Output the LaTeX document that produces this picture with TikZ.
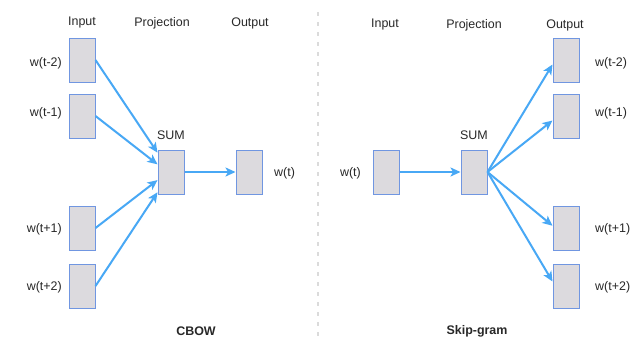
\documentclass[tikz,border=0pt]{standalone}
\usepackage{fontspec}
\setmainfont{Liberation Sans}
\usetikzlibrary{arrows.meta,calc}
\definecolor{arrowblue}{RGB}{72,168,245}
\definecolor{boxedge}{RGB}{112,150,225}
\definecolor{boxfill}{RGB}{220,218,222}
\definecolor{txt}{RGB}{40,40,40}
\tikzset{
  wordbox/.style={draw=boxedge, fill=boxfill, line width=1bp, minimum width=26bp, minimum height=44bp, inner sep=0pt},
  lab/.style={font=\fontsize{12.5}{14}\selectfont, text=txt, inner sep=1bp},
  title/.style={font=\bfseries\fontsize{12.5}{14}\selectfont, text=txt, inner sep=1bp},
  conn/.style={draw=arrowblue, line width=2bp, -{Stealth[length=10bp,width=9bp,inset=2.5bp]}},
  sep/.style={draw=black!14, line width=1.5bp, dash pattern=on 4bp off 6bp}
}
\begin{document}
\begin{tikzpicture}[x=1bp,y=-1bp]
\useasboundingbox (0,0) rectangle (637,349);
\fill[white] (0,0) rectangle (637,349);
% separator
\coordinate (s1) at (318,12);
\coordinate (s2) at (318,342);
\draw[sep] (s1) -- (s2);
% ---------- CBOW ----------
\node[lab] (hin1) at (82,23) {Input};
\node[lab] (hpr1) at (162,23) {Projection};
\node[lab] (hout1) at (250,23) {Output};
\node[wordbox] (a1) at (82,60) {};
\node[wordbox] (a2) at (82,116) {};
\node[wordbox] (a3) at (82,228) {};
\node[wordbox] (a4) at (82,286) {};
\node[lab, anchor=east] (la1) at (63,63) {w(t-2)};
\node[lab, anchor=east] (la2) at (63,113) {w(t-1)};
\node[lab, anchor=east] (la3) at (63,229) {w(t+1)};
\node[lab, anchor=east] (la4) at (63,287) {w(t+2)};
\node[wordbox] (sum1) at (171,172) {};
\node[lab] (lsum1) at (171,135) {SUM};
\node[wordbox] (o1) at (249,172) {};
\node[lab, anchor=west] (lo1) at (273,173) {w(t)};
\node[title] (cbow) at (196,331) {CBOW};
\draw[conn] (a1.east) -- ($(sum1.north west)!0.07!(sum1.south west)$);
\draw[conn] (a2.east) -- ($(sum1.north west)!0.33!(sum1.south west)$);
\draw[conn] (a3.east) -- ($(sum1.north west)!0.68!(sum1.south west)$);
\draw[conn] (a4.east) -- ($(sum1.north west)!0.95!(sum1.south west)$);
\draw[conn] (sum1.east) -- (o1.west);
% ---------- Skip-gram ----------
\node[lab] (hin2) at (385,25) {Input};
\node[lab] (hpr2) at (474,25) {Projection};
\node[lab] (hout2) at (565,25) {Output};
\node[wordbox] (i2) at (386,172) {};
\node[lab, anchor=east] (li2) at (362,173) {w(t)};
\node[wordbox] (sum2) at (474,172) {};
\node[lab] (lsum2) at (474,135) {SUM};
\node[wordbox] (b1) at (566,60) {};
\node[wordbox] (b2) at (566,116) {};
\node[wordbox] (b3) at (566,228) {};
\node[wordbox] (b4) at (566,286) {};
\node[lab, anchor=west] (lb1) at (594,63) {w(t-2)};
\node[lab, anchor=west] (lb2) at (594,113) {w(t-1)};
\node[lab, anchor=west] (lb3) at (594,229) {w(t+1)};
\node[lab, anchor=west] (lb4) at (594,287) {w(t+2)};
\node[title] (skip) at (477,331) {Skip-gram};
\draw[conn] (i2.east) -- (sum2.west);
\draw[conn] (sum2.east) -- ($(b1.north west)!0.6!(b1.south west)$);
\draw[conn] (sum2.east) -- ($(b2.north west)!0.6!(b2.south west)$);
\draw[conn] (sum2.east) -- ($(b3.north west)!0.45!(b3.south west)$);
\draw[conn] (sum2.east) -- ($(b4.north west)!0.4!(b4.south west)$);
\end{tikzpicture}
\end{document}
